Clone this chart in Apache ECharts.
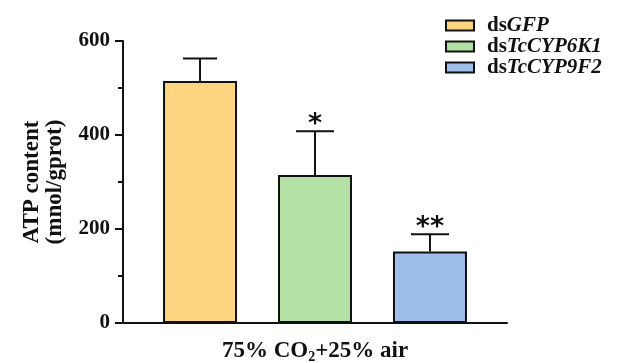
<!DOCTYPE html>
<html><head><meta charset="utf-8">
<script src="https://cdn.jsdelivr.net/npm/echarts@6/dist/echarts.min.js"></script>
<style>html,body{margin:0;padding:0;background:#fff}#c{width:618px;height:363px}</style>
</head><body><div id="c"></div>
<script>
const groups = ['dsGFP', 'dsTcCYP6K1', 'dsTcCYP9F2'];
const positions = [1, 2, 3];
const means = [515, 315, 152];
const upper = [563, 408, 189];
const marks = ['', '*', '**'];
const colors = ['#FDD480', '#B3E0A3', '#9DBFE9'];
const yTicks = [0, 200, 400, 600];

const F = 'Liberation Serif, Times New Roman, serif';
const chart = echarts.init(document.getElementById('c'));

const barSeries = groups.map((g, i) => ({
  type: 'bar', name: g,
  data: [[positions[i], means[i]]],
  barWidth: 74, barGap: '-100%',
  itemStyle: { color: colors[i], borderColor: '#111', borderWidth: 2 },
  z: 2
}));

const errData = groups.map((g, i) => [positions[i], means[i], upper[i], i]);

chart.setOption({
  animation: false,
  grid: { left: 123, right: 111, top: 41, bottom: 40, outerBoundsMode: 'none', containLabel: false },
  legend: {
    data: groups, orient: 'vertical', left: 440, top: 10,
    itemWidth: 28, itemHeight: 10, itemGap: 0,
    icon: 'rect',
    itemStyle: { borderColor: '#111', borderWidth: 2 },
    formatter: n => '{a|ds}{b|' + n.slice(2) + '}',
    textStyle: {
      padding: [0, 0, 0, 8],
      rich: {
        a: { fontFamily: F, fontWeight: 'bold', fontSize: 21, lineHeight: 22, color: '#111' },
        b: { fontFamily: F, fontWeight: 'bold', fontStyle: 'italic', fontSize: 21, lineHeight: 22, color: '#111' }
      }
    }
  },
  xAxis: {
    type: 'value', min: 0.33, max: 3.67,
    axisLine: { show: true, onZero: false, lineStyle: { color: '#111', width: 2 } },
    axisTick: { show: false }, axisLabel: { show: false }, splitLine: { show: false },
    name: '{t|75% CO}{s|2}{t|+25% air}', nameLocation: 'middle', nameGap: 15,
    nameTextStyle: {
      rich: {
        t: { fontFamily: F, fontWeight: 'bold', fontSize: 23, color: '#111' },
        s: { fontFamily: F, fontWeight: 'bold', fontSize: 14, color: '#111', padding: [12, 0, 0, 0] }
      }
    }
  },
  yAxis: {
    type: 'value', min: 0, max: 600, interval: 200,
    axisLine: { show: true, lineStyle: { color: '#111', width: 2 } },
    axisTick: { show: true, length: 8, lineStyle: { color: '#111', width: 2 } },
    minorTick: { show: true, splitNumber: 2, length: 5, lineStyle: { color: '#111', width: 2 } },
    splitLine: { show: false },
    axisLabel: { fontFamily: F, fontWeight: 'bold', fontSize: 21, color: '#111', margin: 13,
      formatter: v => yTicks.includes(v) ? String(v) : '' },
    name: 'ATP content\n(mnol/gprot)', nameLocation: 'middle', nameGap: 56,
    nameTextStyle: { fontFamily: F, fontWeight: 'bold', fontSize: 23, color: '#111', lineHeight: 23 }
  },
  series: barSeries.concat([{
    type: 'custom', name: 'err', z: 3,
    data: errData,
    renderItem: (params, api) => {
      const x = api.value(0), lo = api.value(1), hi = api.value(2), idx = api.value(3);
      const p0 = api.coord([x, lo]), p1 = api.coord([x, hi]);
      const half = idx === 0 ? 17 : 19;
      const st = { stroke: '#111', lineWidth: 2 };
      const children = [
        { type: 'line', shape: { x1: p0[0], y1: p0[1], x2: p1[0], y2: p1[1] }, style: st },
        { type: 'line', shape: { x1: p1[0] - half, y1: p1[1], x2: p1[0] + half, y2: p1[1] }, style: st }
      ];
      if (marks[idx]) {
        children.push({ type: 'text', x: p1[0], y: p1[1] + 7,
          style: { text: marks[idx], fontFamily: 'DejaVu Sans', fontWeight: 'bold', fontSize: 27,
            fill: '#111', align: 'center', verticalAlign: 'bottom' } });
      }
      return { type: 'group', children };
    }
  }])
});
</script></body></html>
